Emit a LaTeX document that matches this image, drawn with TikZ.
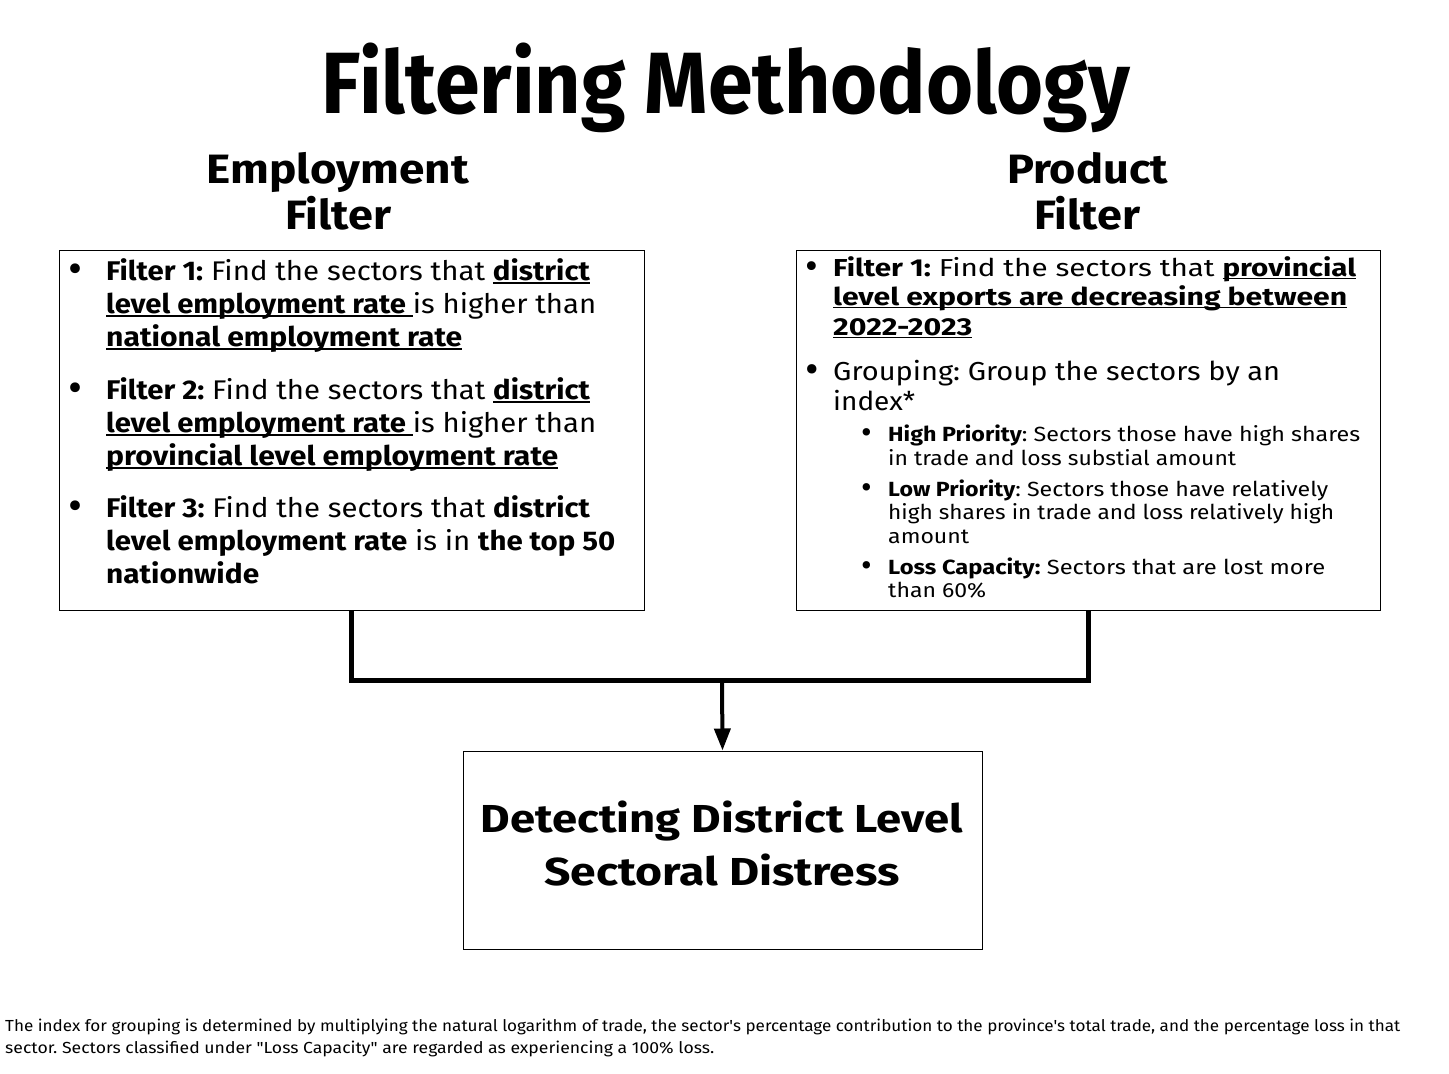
\documentclass[tikz,border=0pt]{standalone}
\usepackage{fontspec}
\setmainfont{Fira Sans}
\newfontfamily\plainfira{Fira Sans}
\usepackage{graphicx}
\usetikzlibrary{arrows.meta}
\frenchspacing
\newcommand\myul[1]{\begingroup\setbox0\hbox{#1}\rlap{\rule[-0.14em]{\wd0}{0.07em}}\box0\endgroup}
% left-aligned line fitted to a width
\newcommand\Lline[5]{\node[anchor=base west,inner sep=0pt,font=#2] (#1) at (#3) {\resizebox{#4pt}{\height}{#5}};}
% centred line fitted to a width
\newcommand\Cline[5]{\node[anchor=base,inner sep=0pt,font=#2] (#1) at (#3) {\resizebox{#4pt}{\height}{#5}};}
\newcommand\Bul[3]{\node[anchor=base west,inner sep=0pt,font=#2] (#1) at (#3) {\raisebox{-0.13em}{\scalebox{1.6}{\textbullet}}};}
\def\fT{\fontsize{87}{90}\bfseries\selectfont}
\def\fH{\fontsize{41}{46}\bfseries\selectfont}
\def\fL{\fontsize{27}{33}\selectfont}
\def\fR{\fontsize{24.5}{30}\selectfont}
\def\fG{\fontsize{26}{30}\selectfont}
\def\fS{\fontsize{20.5}{24}\selectfont}
\def\fB{\fontsize{39}{52}\bfseries\selectfont}
\def\fF{\plainfira\fontsize{16}{22}\selectfont}
\tikzset{
  box/.style={draw=black,line width=1pt,rectangle,inner sep=0pt},
  bar/.style={draw=black,line width=5pt,line join=miter},
}
\begin{document}
\begin{tikzpicture}[x=1pt,y=-1pt]
\useasboundingbox[fill=white] (0,0) rectangle (1449,1074);
% title and headers
\Cline{title}{\fT}{726,113}{808}{Filtering Methodology}
\Cline{eh1}{\fH}{338,183}{262}{Employment}
\Cline{eh2}{\fH}{338,229}{106}{Filter}
\Cline{ph1}{\fH}{1087.5,183}{161}{Product}
\Cline{ph2}{\fH}{1087,229}{106}{Filter}
% boxes
\node[box,minimum width=585pt,minimum height=360pt] (empbox) at (351.5,430) {};
\node[box,minimum width=584pt,minimum height=360pt] (prodbox) at (1088,430) {};
\node[box,minimum width=519pt,minimum height=198pt] (resbox) at (722.5,850) {};
% employment filter text
\Bul{eb1}{\fL}{68,280}
\Lline{e1}{\fL}{106,280}{484}{\textbf{Filter 1:} Find the sectors that \myul{\textbf{district}}}
\Lline{e2}{\fL}{106,313}{490}{\myul{\textbf{level employment rate\ }}is higher than}
\Lline{e3}{\fL}{106,346}{356}{\myul{\textbf{national employment rate}}}
\Bul{eb2}{\fL}{68,399}
\Lline{e4}{\fL}{106,399}{484}{\textbf{Filter 2:} Find the sectors that \myul{\textbf{district}}}
\Lline{e5}{\fL}{106,432}{490}{\myul{\textbf{level employment rate\ }}is higher than}
\Lline{e6}{\fL}{106,465}{452}{\myul{\textbf{provincial level employment rate}}}
\Bul{eb3}{\fL}{68,517}
\Lline{e7}{\fL}{106,517}{484}{\textbf{Filter 3:} Find the sectors that \textbf{district}}
\Lline{e8}{\fL}{106,550}{509}{\textbf{level employment rate} is in \textbf{the top 50}}
\Lline{e9}{\fL}{106,583}{153}{\textbf{nationwide}}
% product filter text
\Bul{pb1}{\fR}{805,276}
\Lline{p1}{\fR}{833,276}{523}{\textbf{Filter 1:} Find the sectors that \myul{\textbf{provincial}}}
\Lline{p2}{\fR}{833,305}{514}{\myul{\textbf{level exports are decreasing between}}}
\Lline{p3}{\fR}{833,335}{139}{\myul{\textbf{2022-2023}}}
\Bul{pb2}{\fG}{805,380}
\Lline{p4}{\fG}{833,380}{447}{Grouping: Group the sectors by an}
\Lline{p5}{\fG}{833,410}{82}{index*}
\Bul{sb1}{\fS}{861,441}
\Lline{s1}{\fS}{888,441}{472}{\textbf{High Priority}: Sectors those have high shares}
\Lline{s2}{\fS}{888,465}{348}{in trade and loss substial amount}
\Bul{sb2}{\fS}{861,496}
\Lline{s3}{\fS}{888,496}{440}{\textbf{Low Priority}: Sectors those have relatively}
\Lline{s4}{\fS}{888,519}{446}{high shares in trade and loss relatively high}
\Lline{s5}{\fS}{888,543}{81}{amount}
\Bul{sb3}{\fS}{861,574}
\Lline{s6}{\fS}{888,574}{437}{\textbf{Loss Capacity:} Sectors that are lost more}
\Lline{s7}{\fS}{888,597}{98}{than 60\%}
% result text
\Cline{r1}{\fB}{722,832}{482}{Detecting District Level}
\Cline{r2}{\fB}{722,885}{355}{Sectoral Distress}
% footnote
\Lline{fn1}{\fF}{5,1031}{1395}{The index for grouping is determined by multiplying the natural logarithm of trade, the sector's percentage contribution to the province's total trade, and the percentage loss in that}
\Lline{fn2}{\fF}{5,1053}{709}{sector. Sectors classified under "Loss Capacity" are regarded as experiencing a 100\% loss.}
% connectors
\coordinate (j) at (722,680);
\draw[bar] (empbox.south) |- (j) -| (prodbox.south);
\draw[line width=4pt,-{Triangle[width=16pt,length=22pt]}] (j) -- (resbox.north);
\end{tikzpicture}
\end{document}
